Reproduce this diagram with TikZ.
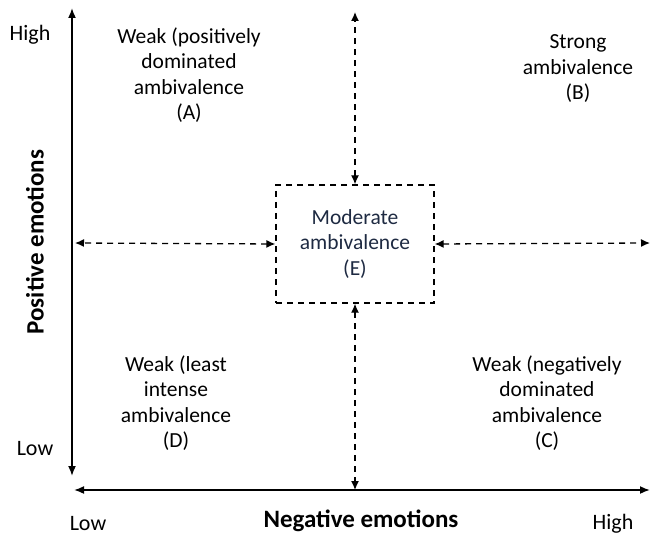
\documentclass[tikz,border=0pt]{standalone}
\usepackage{fontspec}
\setmainfont{Carlito}
\usepackage{tikz}
\usetikzlibrary{arrows.meta,positioning}
\usepackage{xcolor}
\definecolor{boxtext}{RGB}{30,42,66}

\tikzset{
    axisline/.style={line width=1.7pt, {Latex[length=10pt,width=8pt]}-{Latex[length=10pt,width=8pt]}},
    dasharrow/.style={line width=1.3pt, dash pattern=on 6pt off 5pt, {Latex[length=9pt,width=8pt]}-{Latex[length=9pt,width=8pt]}},
    quadlabel/.style={align=center, font=\fontsize{21.5}{25.5}\selectfont},
    ticklabel/.style={font=\fontsize{22}{25.5}\selectfont},
    axislabel/.style={font=\fontsize{25}{28}\selectfont\bfseries}
}

\begin{document}
\begin{tikzpicture}[x=1pt, y=-1pt]
    \useasboundingbox (0,0) rectangle (650,537);

    % axes
    \coordinate (vtop) at (72,8);
    \coordinate (vbottom) at (72,476);
    \coordinate (hleft) at (74,490);
    \coordinate (hright) at (650,490);
    \draw[axisline] (vbottom) -- (vtop);
    \draw[axisline] (hleft) -- (hright);

    \node[ticklabel] (yhigh) at (30,35) {High};
    \node[ticklabel] (ylow) at (35,449) {Low};
    \node[ticklabel] (xlow) at (88,524) {Low};
    \node[ticklabel] (xhigh) at (613,524) {High};
    \node[axislabel] (xlabel) at (361,521) {Negative emotions};
    \node[axislabel, rotate=90] (ylabel) at (35,242) {Positive emotions};

    % centre box
    \node[draw, dash pattern=on 6pt off 5pt, line width=1.3pt, minimum width=158pt, minimum height=118pt, quadlabel, text=boxtext] (moderate) at (355,244) {Moderate\\ambivalence\\(E)};

    % quadrants
    \node[quadlabel] (quadA) at (189,75) {Weak (positively\\dominated\\ambivalence\\(A)};
    \node[quadlabel] (quadB) at (578,69) {Strong\\ambivalence\\(B)};
    \node[quadlabel] (quadD) at (176,403) {Weak (least\\intense\\ambivalence\\(D)};
    \node[quadlabel] (quadC) at (547,403) {Weak (negatively\\dominated\\ambivalence\\(C)};

    % dashed connectors
    \coordinate (dtop) at (355,12);
    \coordinate (dbottom) at (355,490);
    \coordinate (dleft) at (75,243);
    \coordinate (dright) at (650,243);
    \draw[dasharrow] (moderate.north) -- (dtop);
    \draw[dasharrow] (moderate.south) -- (dbottom);
    \draw[dasharrow] (moderate.west) -- (dleft);
    \draw[dasharrow] (moderate.east) -- (dright);
\end{tikzpicture}
\end{document}
